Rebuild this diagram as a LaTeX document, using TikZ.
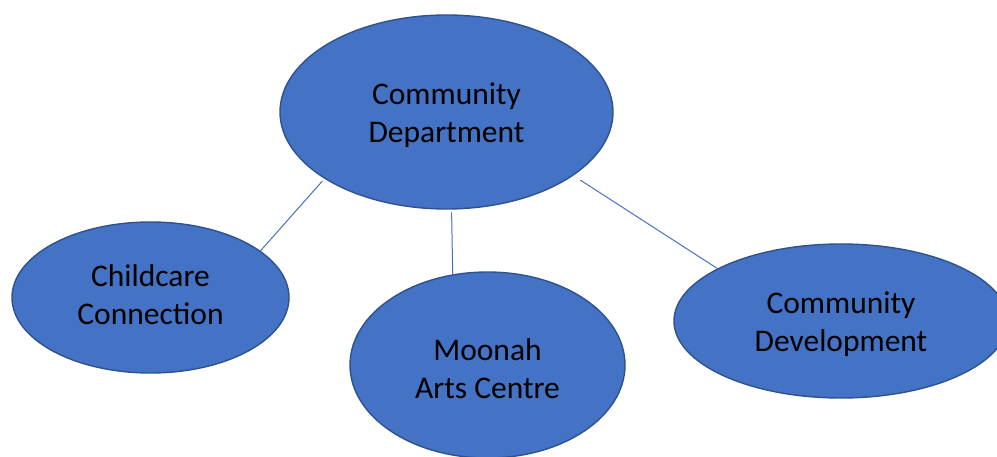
\documentclass[tikz,border=0pt]{standalone}
\usepackage{fontspec}
\setmainfont{Carlito}
\usetikzlibrary{shapes.geometric}
\definecolor{bubblefill}{HTML}{4472C4}
\definecolor{bubbleedge}{HTML}{2F528F}
% two centred lines, baseline on the lower one
\newcommand{\twolines}[2]{\begin{tabular}[b]{@{}c@{}}#1\\#2\end{tabular}}
\begin{document}
\begin{tikzpicture}[x=1pt,y=-1pt,line join=round, line cap=round,
	font=\fontsize{31.5}{38.5}\selectfont,
	bubble/.style={ellipse,fill=bubblefill,draw=bubbleedge,line width=1.4pt,inner sep=0pt},
	caption/.style={anchor=base,inner sep=0pt},
	link/.style={draw=bubblefill,line width=1pt}]
	\useasboundingbox (0,0) rectangle (997,457);
	\clip (0,0) rectangle (997,457);
	% top and the three below it
	\node[bubble,minimum width=333,minimum height=194] (dept) at (446.5,112) {};
	\node[bubble,minimum width=277,minimum height=151] (child) at (150.5,297.5) {};
	\node[bubble,minimum width=275,minimum height=186] (arts) at (487.5,365) {};
	\node[bubble,minimum width=334,minimum height=154] (devt) at (841,321) {};
	\node[caption] (deptname) at (446.5,143) {\twolines{Community}{Department}};
	\node[caption] (childname) at (150.5,325) {\twolines{Childcare}{Connection}};
	\node[caption] (artsname) at (487.5,399) {\twolines{Moonah}{Arts Centre}};
	\node[caption] (devtname) at (841,352) {\twolines{Community}{Development}};
	% links, starting a little off the top border
	\draw[link] ([shift={(-3,2)}]dept.209) -- (child.23);
	\draw[link] ([shift={(0,3)}]dept.273.7) -- (arts.111);
	\draw[link] ([shift={(8,4)}]dept.333.7) -- (devt.157.9);
\end{tikzpicture}
\end{document}
